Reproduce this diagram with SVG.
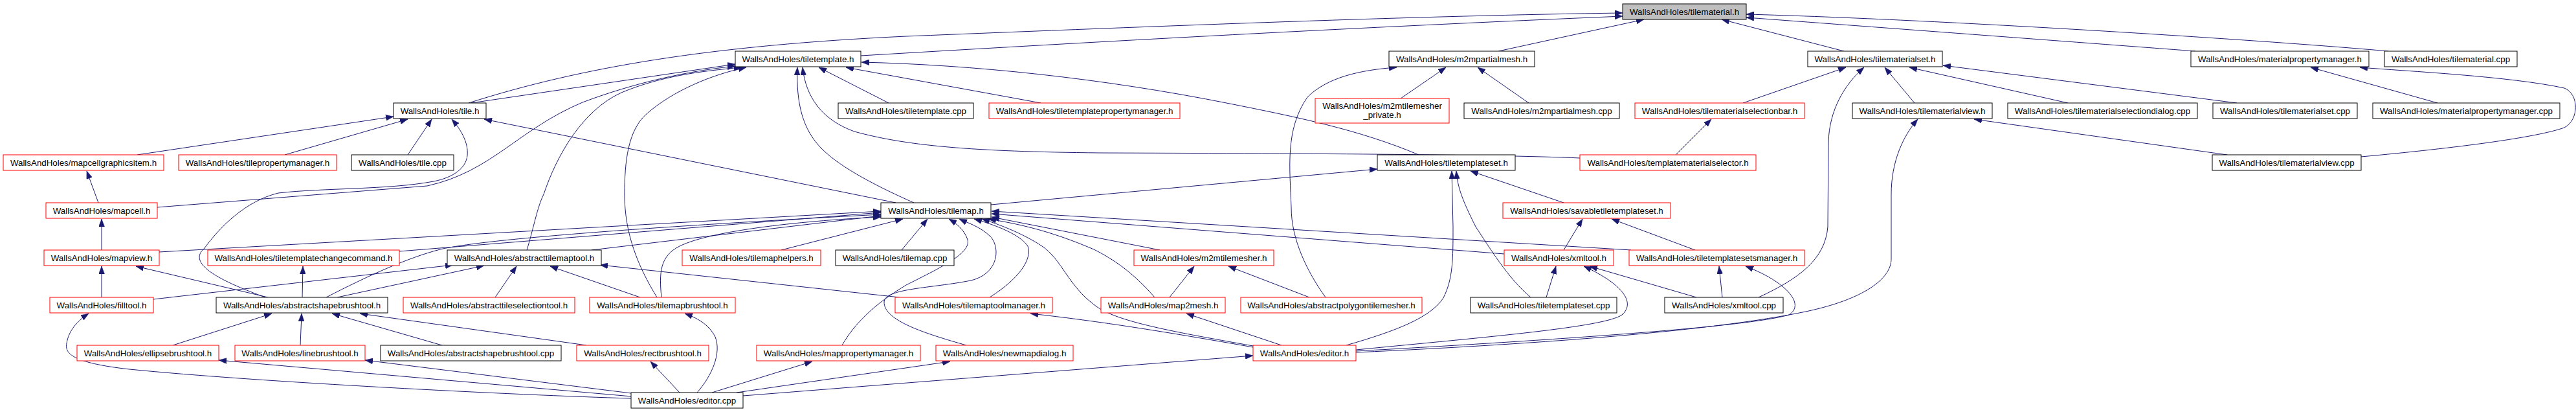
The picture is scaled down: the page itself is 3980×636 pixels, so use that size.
<svg xmlns="http://www.w3.org/2000/svg" width="3980" height="636" viewBox="0 0 3980 636">
<style>
.n rect{fill:#fff;stroke:#000;stroke-width:1}
.r rect{fill:#fff;stroke:#f00;stroke-width:1}
.root rect{fill:#bfbfbf;stroke:#000;stroke-width:1}
text{font-family:"Liberation Sans",Arial,Helvetica,sans-serif;font-size:13.33px;fill:#000;text-anchor:middle}
#edges path{fill:none;stroke:#191970;stroke-width:1;marker-end:url(#ah)}
</style>
<defs>
<marker id="ah" markerUnits="userSpaceOnUse" viewBox="0 0 12 9" refX="12" refY="4.5" markerWidth="12" markerHeight="9" orient="auto">
<path d="M0,0 L12,4.5 L0,9 z" fill="#191970" stroke="#191970" stroke-width="0.5"/>
</marker>
</defs>
<rect x="0" y="0" width="3980" height="636" fill="#fff"/>
<g id="edges">
<path d="M724,159 C900,103 1100,70 1400,56 C1800,40 2200,24 2507,20"/>
<path d="M1330,86 C1700,64 2100,42 2507,25"/>
<path d="M2315,79 L2540,30"/>
<path d="M2849,79 L2660,30"/>
<path d="M3392,79 C3300,72 2900,42 2698,27"/>
<path d="M3690,79 C3500,62 3000,30 2698,22"/>
<path d="M728,159 L1136,99"/>
<path d="M243,320 L660,287 C760,265 800,200 900,158 C980,128 1060,110 1136,102"/>
<path d="M410,459 C330,430 290,405 316,383 C340,350 380,310 430,298 C500,290 600,293 670,280 C700,274 720,260 722,240 C724,220 712,200 698,184"/>
<path d="M152,313 L134,264"/>
<path d="M212,239 L608,180"/>
<path d="M440,239 L630,184"/>
<path d="M630,239 L667,184"/>
<path d="M1384,313 L748,184"/>
<path d="M814,386 C825,350 830,320 840,300 C860,240 900,170 960,143 C1020,118 1080,110 1146,104"/>
<path d="M1015,459 C985,410 965,360 965,300 C965,250 970,200 1000,175 C1040,140 1100,115 1153,104"/>
<path d="M1412,313 C1360,290 1300,260 1270,230 C1240,200 1230,160 1232,104"/>
<path d="M2441,244 C2300,238 2000,237 1700,236 C1500,234 1400,225 1320,203 C1270,185 1245,150 1240,104"/>
<path d="M1373,159 L1265,104"/>
<path d="M1608,159 L1307,104"/>
<path d="M2192,239 C2100,200 2000,180 1900,160 C1700,120 1500,100 1331,96"/>
<path d="M2164,152 L2234,104"/>
<path d="M2362,159 L2283,104"/>
<path d="M2048,459 C2020,420 1995,370 1995,320 C1993,260 1985,200 2020,150 C2050,120 2100,108 2158,104"/>
<path d="M2589,239 L2644,184"/>
<path d="M2693,159 L2852,104"/>
<path d="M2717,459 C2780,430 2820,400 2824,350 L2825,220 C2826,170 2850,130 2880,104"/>
<path d="M2958,159 L2912,104"/>
<path d="M3195,159 L2950,104"/>
<path d="M3456,159 L3002,101"/>
<path d="M3441,239 L3050,184"/>
<path d="M2095,544 C2400,530 2650,510 2790,481 C2880,462 2922,430 2922,400 L2922,300 C2922,250 2940,210 2963,184"/>
<path d="M3766,159 L3570,104"/>
<path d="M3648,242 C3800,228 3920,212 3962,197 C3985,185 3985,145 3962,136 C3880,118 3720,110 3646,104"/>
<path d="M157,386 L157,338"/>
<path d="M157,459 L157,411"/>
<path d="M414,459 L210,411"/>
<path d="M246,389 L1361,326"/>
<path d="M617,388 L1361,328"/>
<path d="M504,459 C570,425 630,398 680,385 C760,366 1100,345 1361,331"/>
<path d="M914,386 L1361,333"/>
<path d="M1022,459 C1018,420 1020,395 1050,380 C1100,355 1250,340 1361,335"/>
<path d="M1207,386 L1395,338"/>
<path d="M1393,386 L1433,338"/>
<path d="M1301,533 C1320,500 1350,470 1400,440 C1460,410 1500,390 1495,370 C1490,355 1478,345 1466,338"/>
<path d="M1493,533 C1430,515 1365,495 1366,466 C1367,445 1440,445 1500,433 C1545,422 1545,380 1530,365 C1515,350 1495,344 1482,338"/>
<path d="M1529,459 C1575,430 1595,400 1588,380 C1575,360 1530,345 1505,338"/>
<path d="M1936,534 C1800,510 1720,495 1690,470 C1650,440 1640,400 1610,380 C1580,360 1540,345 1517,338"/>
<path d="M1784,459 C1750,420 1720,400 1690,385 C1620,355 1570,345 1527,338"/>
<path d="M1792,386 L1532,335"/>
<path d="M2324,392 L1532,330"/>
<path d="M2520,386 L1532,326"/>
<path d="M1531,316 L2128,261"/>
<path d="M2080,533 C2160,510 2210,490 2230,460 C2245,430 2245,400 2245,350 L2243,264"/>
<path d="M2365,459 C2330,430 2300,380 2280,350 C2260,310 2252,290 2250,264"/>
<path d="M2416,313 L2272,264"/>
<path d="M2416,386 L2445,338"/>
<path d="M2619,386 L2490,338"/>
<path d="M2389,459 L2404,411"/>
<path d="M2095,540 C2300,520 2480,505 2506,486 C2530,465 2500,435 2447,411"/>
<path d="M2621,459 L2456,411"/>
<path d="M2661,459 L2656,411"/>
<path d="M2095,542 C2400,525 2700,505 2764,486 C2790,470 2760,435 2697,411"/>
<path d="M1807,459 L1845,411"/>
<path d="M2023,459 L1898,411"/>
<path d="M1980,533 L1833,484"/>
<path d="M1936,536 C1800,512 1700,496 1592,484"/>
<path d="M1390,459 L927,409"/>
<path d="M1148,611 L1936,549"/>
<path d="M1138,606 L1468,558"/>
<path d="M1100,606 L1255,558"/>
<path d="M1077,606 C1100,580 1115,545 1105,520 C1095,500 1075,490 1058,484"/>
<path d="M1050,606 L1005,558"/>
<path d="M976,612 L338,556"/>
<path d="M975,607 L564,556"/>
<path d="M975,615 C800,610 400,590 200,570 C110,560 100,545 103,530 C106,510 120,495 137,484"/>
<path d="M267,533 L420,484"/>
<path d="M464,533 L466,484"/>
<path d="M683,533 L513,484"/>
<path d="M906,533 L556,484"/>
<path d="M237,462 L700,409"/>
<path d="M521,459 L748,410"/>
<path d="M765,459 L798,411"/>
<path d="M989,459 L850,411"/>
<path d="M467,459 L468,411"/>
</g>
<g id="tilematerial_h" class="root"><rect x="2507" y="6" width="191" height="24"/><text x="2602.5" y="23">WallsAndHoles/tilematerial.h</text></g>
<g id="tiletemplate_h" class="n"><rect x="1136" y="79" width="194" height="24"/><text x="1233" y="96">WallsAndHoles/tiletemplate.h</text></g>
<g id="m2mpartialmesh_h" class="n"><rect x="2146" y="79" width="225" height="24"/><text x="2258.5" y="96">WallsAndHoles/m2mpartialmesh.h</text></g>
<g id="tilematerialset_h" class="n"><rect x="2793" y="79" width="208" height="24"/><text x="2897" y="96">WallsAndHoles/tilematerialset.h</text></g>
<g id="materialpropertymanager_h" class="n"><rect x="3385" y="79" width="275" height="24"/><text x="3522.5" y="96">WallsAndHoles/materialpropertymanager.h</text></g>
<g id="tilematerial_cpp" class="n"><rect x="3684" y="79" width="205" height="24"/><text x="3786.5" y="96">WallsAndHoles/tilematerial.cpp</text></g>
<g id="tile_h" class="n"><rect x="608" y="159" width="143" height="24"/><text x="679.5" y="176">WallsAndHoles/tile.h</text></g>
<g id="tiletemplate_cpp" class="n"><rect x="1295" y="159" width="209" height="24"/><text x="1399.5" y="176">WallsAndHoles/tiletemplate.cpp</text></g>
<g id="tiletemplatepropertymanager_h" class="r"><rect x="1528" y="159" width="295" height="24"/><text x="1675.5" y="176">WallsAndHoles/tiletemplatepropertymanager.h</text></g>
<g id="m2mtilemesher_private_h" class="r"><rect x="2032" y="152" width="207" height="38"/><text x="2135.5" y="168">WallsAndHoles/m2mtilemesher</text><text x="2135.5" y="182">_private.h</text></g>
<g id="m2mpartialmesh_cpp" class="n"><rect x="2262" y="159" width="240" height="24"/><text x="2382" y="176">WallsAndHoles/m2mpartialmesh.cpp</text></g>
<g id="tilematerialselectionbar_h" class="r"><rect x="2526" y="159" width="262" height="24"/><text x="2657" y="176">WallsAndHoles/tilematerialselectionbar.h</text></g>
<g id="tilematerialview_h" class="n"><rect x="2862" y="159" width="216" height="24"/><text x="2970" y="176">WallsAndHoles/tilematerialview.h</text></g>
<g id="tilematerialselectiondialog_cpp" class="n"><rect x="3102" y="159" width="293" height="24"/><text x="3248.5" y="176">WallsAndHoles/tilematerialselectiondialog.cpp</text></g>
<g id="tilematerialset_cpp" class="n"><rect x="3419" y="159" width="223" height="24"/><text x="3530.5" y="176">WallsAndHoles/tilematerialset.cpp</text></g>
<g id="materialpropertymanager_cpp" class="n"><rect x="3666" y="159" width="289" height="24"/><text x="3810.5" y="176">WallsAndHoles/materialpropertymanager.cpp</text></g>
<g id="mapcellgraphicsitem_h" class="r"><rect x="5" y="239" width="248" height="24"/><text x="129" y="256">WallsAndHoles/mapcellgraphicsitem.h</text></g>
<g id="tilepropertymanager_h" class="r"><rect x="276" y="239" width="244" height="24"/><text x="398" y="256">WallsAndHoles/tilepropertymanager.h</text></g>
<g id="tile_cpp" class="n"><rect x="543" y="239" width="158" height="24"/><text x="622" y="256">WallsAndHoles/tile.cpp</text></g>
<g id="tiletemplateset_h" class="n"><rect x="2128" y="239" width="213" height="24"/><text x="2234.5" y="256">WallsAndHoles/tiletemplateset.h</text></g>
<g id="templatematerialselector_h" class="r"><rect x="2441" y="239" width="272" height="24"/><text x="2577" y="256">WallsAndHoles/templatematerialselector.h</text></g>
<g id="tilematerialview_cpp" class="n"><rect x="3418" y="239" width="230" height="24"/><text x="3533" y="256">WallsAndHoles/tilematerialview.cpp</text></g>
<g id="mapcell_h" class="r"><rect x="71" y="313" width="172" height="24"/><text x="157" y="330">WallsAndHoles/mapcell.h</text></g>
<g id="tilemap_h" class="n"><rect x="1361" y="313" width="170" height="24"/><text x="1446" y="330">WallsAndHoles/tilemap.h</text></g>
<g id="savabletiletemplateset_h" class="r"><rect x="2322" y="313" width="259" height="24"/><text x="2451.5" y="330">WallsAndHoles/savabletiletemplateset.h</text></g>
<g id="mapview_h" class="r"><rect x="68" y="386" width="178" height="24"/><text x="157" y="403">WallsAndHoles/mapview.h</text></g>
<g id="tiletemplatechangecommand_h" class="r"><rect x="321" y="386" width="296" height="24"/><text x="469" y="403">WallsAndHoles/tiletemplatechangecommand.h</text></g>
<g id="abstracttilemaptool_h" class="n"><rect x="691" y="386" width="238" height="24"/><text x="810" y="403">WallsAndHoles/abstracttilemaptool.h</text></g>
<g id="tilemaphelpers_h" class="r"><rect x="1054" y="386" width="214" height="24"/><text x="1161" y="403">WallsAndHoles/tilemaphelpers.h</text></g>
<g id="tilemap_cpp" class="n"><rect x="1291" y="386" width="183" height="24"/><text x="1382.5" y="403">WallsAndHoles/tilemap.cpp</text></g>
<g id="m2mtilemesher_h" class="r"><rect x="1752" y="386" width="216" height="24"/><text x="1860" y="403">WallsAndHoles/m2mtilemesher.h</text></g>
<g id="xmltool_h" class="r"><rect x="2324" y="386" width="169" height="24"/><text x="2408.5" y="403">WallsAndHoles/xmltool.h</text></g>
<g id="tiletemplatesetsmanager_h" class="r"><rect x="2517" y="386" width="271" height="24"/><text x="2652.5" y="403">WallsAndHoles/tiletemplatesetsmanager.h</text></g>
<g id="filltool_h" class="r"><rect x="77" y="459" width="160" height="24"/><text x="157" y="476">WallsAndHoles/filltool.h</text></g>
<g id="abstractshapebrushtool_h" class="n"><rect x="334" y="459" width="265" height="24"/><text x="466.5" y="476">WallsAndHoles/abstractshapebrushtool.h</text></g>
<g id="abstracttileselectiontool_h" class="r"><rect x="623" y="459" width="265" height="24"/><text x="755.5" y="476">WallsAndHoles/abstracttileselectiontool.h</text></g>
<g id="tilemapbrushtool_h" class="r"><rect x="911" y="459" width="225" height="24"/><text x="1023.5" y="476">WallsAndHoles/tilemapbrushtool.h</text></g>
<g id="tilemaptoolmanager_h" class="r"><rect x="1383" y="459" width="243" height="24"/><text x="1504.5" y="476">WallsAndHoles/tilemaptoolmanager.h</text></g>
<g id="map2mesh_h" class="r"><rect x="1701" y="459" width="192" height="24"/><text x="1797" y="476">WallsAndHoles/map2mesh.h</text></g>
<g id="abstractpolygontilemesher_h" class="r"><rect x="1917" y="459" width="280" height="24"/><text x="2057" y="476">WallsAndHoles/abstractpolygontilemesher.h</text></g>
<g id="tiletemplateset_cpp" class="n"><rect x="2272" y="459" width="226" height="24"/><text x="2385" y="476">WallsAndHoles/tiletemplateset.cpp</text></g>
<g id="xmltool_cpp" class="n"><rect x="2572" y="459" width="183" height="24"/><text x="2663.5" y="476">WallsAndHoles/xmltool.cpp</text></g>
<g id="ellipsebrushtool_h" class="r"><rect x="119" y="533" width="219" height="24"/><text x="228.5" y="550">WallsAndHoles/ellipsebrushtool.h</text></g>
<g id="linebrushtool_h" class="r"><rect x="363" y="533" width="201" height="24"/><text x="463.5" y="550">WallsAndHoles/linebrushtool.h</text></g>
<g id="abstractshapebrushtool_cpp" class="n"><rect x="588" y="533" width="279" height="24"/><text x="727.5" y="550">WallsAndHoles/abstractshapebrushtool.cpp</text></g>
<g id="rectbrushtool_h" class="r"><rect x="891" y="533" width="204" height="24"/><text x="993" y="550">WallsAndHoles/rectbrushtool.h</text></g>
<g id="mappropertymanager_h" class="r"><rect x="1169" y="533" width="253" height="24"/><text x="1295.5" y="550">WallsAndHoles/mappropertymanager.h</text></g>
<g id="newmapdialog_h" class="r"><rect x="1446" y="533" width="212" height="24"/><text x="1552" y="550">WallsAndHoles/newmapdialog.h</text></g>
<g id="editor_h" class="r"><rect x="1936" y="533" width="159" height="24"/><text x="2015.5" y="550">WallsAndHoles/editor.h</text></g>
<g id="editor_cpp" class="n"><rect x="975" y="606" width="173" height="24"/><text x="1061.5" y="623">WallsAndHoles/editor.cpp</text></g>
</svg>
